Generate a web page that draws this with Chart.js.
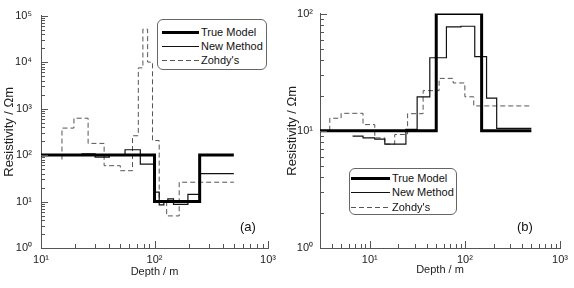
<!DOCTYPE html>
<html>
<head>
<meta charset="utf-8">
<script src="https://cdn.jsdelivr.net/npm/chart.js@4.4.1/dist/chart.umd.min.js"></script>
<style>
  html, body { margin: 0; padding: 0; background: #fff; }
  body { width: 574px; height: 288px; position: relative; overflow: hidden; font-family: "Liberation Sans", Arial, sans-serif; }
  .panel { position: absolute; top: 0; height: 288px; }
  #wrapA { left: 0; width: 287px; }
  #wrapB { left: 286px; width: 288px; }
  .legend { position: absolute; box-sizing: border-box; border: 1px solid #666; border-radius: 6px; background: #fff; font-size: 11px; color: #111; }
  .legend .row { position: absolute; left: 0; height: 14px; line-height: 14px; white-space: nowrap; }
  .legend svg { position: absolute; top: 0; }
  .legend .txt { position: absolute; top: 0; }
  .tag { position: absolute; font-size: 13px; color: #111; line-height: 15px; }
</style>
</head>
<body>
<div class="panel" id="wrapA"><canvas id="chartA" width="287" height="288"></canvas></div>
<div class="panel" id="wrapB"><canvas id="chartB" width="288" height="288"></canvas></div>

<div class="legend" style="left:157px; top:19px; width:110px; height:51px;">
  <div class="row" style="top:5px;"><svg width="40" height="14" style="left:4px"><line x1="0" y1="7.5" x2="37" y2="7.5" stroke="#000" stroke-width="3"/></svg><span class="txt" style="left:43px">True Model</span></div>
  <div class="row" style="top:19px;"><svg width="40" height="14" style="left:4px"><line x1="0" y1="7.5" x2="37" y2="7.5" stroke="#111" stroke-width="1.2"/></svg><span class="txt" style="left:43px">New Method</span></div>
  <div class="row" style="top:33px;"><svg width="40" height="14" style="left:4px"><line x1="0" y1="7.5" x2="37" y2="7.5" stroke="#555" stroke-width="1" stroke-dasharray="5,3"/></svg><span class="txt" style="left:43px">Zohdy's</span></div>
</div>
<div class="legend" style="left:349px; top:168px; width:108px; height:47px;">
  <div class="row" style="top:2px;"><svg width="40" height="14" style="left:1px"><line x1="0" y1="7.5" x2="39" y2="7.5" stroke="#000" stroke-width="3"/></svg><span class="txt" style="left:42px">True Model</span></div>
  <div class="row" style="top:16px;"><svg width="40" height="14" style="left:1px"><line x1="0" y1="7.5" x2="39" y2="7.5" stroke="#111" stroke-width="1.2"/></svg><span class="txt" style="left:42px">New Method</span></div>
  <div class="row" style="top:31px;"><svg width="40" height="14" style="left:1px"><line x1="0" y1="7.5" x2="39" y2="7.5" stroke="#555" stroke-width="1" stroke-dasharray="5,3"/></svg><span class="txt" style="left:42px">Zohdy's</span></div>
</div>
<div class="tag" style="left:240px; top:219px;">(a)</div>
<div class="tag" style="left:517px; top:219px;">(b)</div>

<script>
// panel (a): layer tops (depth, m) and resistivities (ohm m); last depth closes the last layer
const trueDepthA = [10, 100, 250, 500];
const trueResA = [100, 10, 100];
const newDepthA = [10, 23, 30, 40, 55, 75, 99, 110, 121, 131, 147, 197, 250, 500];
const newResA = [100, 106, 90, 100, 130, 64, 16, 8.5, 9.7, 11.4, 8.7, 14.2, 40];
const zohdyDepthA = [15.3, 15.3, 19.5, 26, 36, 50, 64, 72, 79, 87, 96, 110, 128, 165, 500];
const zohdyResA = [80, 380, 620, 178, 59, 46, 260, 7500, 51000, 10000, 205, 9.5, 4.9, 26];

// panel (b)
const trueDepthB = [3, 50, 150, 500];
const trueResB = [10, 100, 10];
const newDepthB = [6.6, 8.5, 11.3, 14.4, 24, 31.5, 42.8, 64, 91, 127, 169, 216, 500];
const newResB = [9.0, 8.7, 8.5, 7.7, 10.3, 19.5, 42, 77, 78, 43, 19, 10.5];
const zohdyDepthB = [3.8, 3.8, 5.0, 8.5, 11.3, 14.4, 18.3, 25, 36.4, 53.6, 75.3, 100, 124, 500];
const zohdyResB = [10, 12.8, 14.1, 11.3, 8.7, 7.7, 9.3, 14, 22, 28, 25.6, 19.5, 16.3];

// axes
const xRangeA = [10, 1000];
const yRangeA = [1, 100000];
const xRangeB = [3, 1000];
const yRangeB = [1, 100];
const decadeLabels = { 0: '10⁰', 1: '10¹', 2: '10²', 3: '10³', 4: '10⁴', 5: '10⁵' };

const seriesNames = ['True Model', 'New Method', "Zohdy's"];

Chart.defaults.font.family = '"Liberation Sans", Arial, sans-serif';
Chart.defaults.font.size = 11;
Chart.defaults.color = '#222';

function layers(depths, res) {
  const pts = res.map((r, i) => ({ x: depths[i], y: r }));
  pts.push({ x: depths[depths.length - 1], y: res[res.length - 1] });
  return pts;
}

function isDecade(v) {
  const l = Math.log10(v);
  return Math.abs(l - Math.round(l)) < 1e-9;
}

function logTicks(scale) {
  const ticks = [];
  const lo = Math.floor(Math.log10(scale.min));
  const hi = Math.ceil(Math.log10(scale.max));
  for (let e = lo; e <= hi; e++) {
    for (let m = 1; m < 10; m++) {
      const v = m * Math.pow(10, e);
      if (v >= scale.min * 0.9999 && v <= scale.max * 1.0001) ticks.push({ value: v, major: m === 1 });
    }
  }
  scale.ticks = ticks;
}

const inwardTicks = {
  id: 'inwardTicks',
  afterDraw(chart) {
    const ctx = chart.ctx;
    const area = chart.chartArea;
    const xs = chart.scales.x, ys = chart.scales.y;
    ctx.save();
    ctx.strokeStyle = '#555';
    ctx.lineWidth = 1;
    xs.ticks.forEach(t => {
      const px = Math.round(xs.getPixelForValue(t.value)) + 0.5;
      const len = isDecade(t.value) ? 7 : 4;
      ctx.beginPath();
      ctx.moveTo(px, area.bottom);
      ctx.lineTo(px, area.bottom - len);
      ctx.stroke();
    });
    ys.ticks.forEach(t => {
      const py = Math.round(ys.getPixelForValue(t.value)) + 0.5;
      const len = isDecade(t.value) ? 7 : 4;
      ctx.beginPath();
      ctx.moveTo(area.left, py);
      ctx.lineTo(area.left + len, py);
      ctx.stroke();
    });
    ctx.restore();
  }
};

function makeChart(id, sets, xRange, yRange, box) {
  new Chart(document.getElementById(id), {
    type: 'scatter',
    data: {
      datasets: [
        { label: seriesNames[0], data: layers(sets[0], sets[1]), borderColor: '#000', borderWidth: 3 },
        { label: seriesNames[1], data: layers(sets[2], sets[3]), borderColor: '#111', borderWidth: 1.2 },
        { label: seriesNames[2], data: layers(sets[4], sets[5]), borderColor: '#555', borderWidth: 1, borderDash: [5, 3] }
      ].map(d => Object.assign(d, { showLine: true, stepped: 'before', pointRadius: 0, fill: false }))
    },
    options: {
      responsive: false,
      animation: false,
      events: [],
      layout: { padding: { top: 8, right: box.right, left: 0, bottom: 0 } },
      plugins: { legend: { display: false }, tooltip: { enabled: false } },
      scales: {
        x: {
          type: 'logarithmic',
          min: xRange[0],
          max: xRange[1],
          afterBuildTicks: logTicks,
          afterFit: s => { s.height = box.xh; },
          grid: { display: false, drawTicks: false },
          border: { display: true, color: '#555', width: 1 },
          ticks: {
            autoSkip: false,
            maxRotation: 0,
            padding: box.xpad,
            color: '#222',
            callback: v => isDecade(v) ? decadeLabels[Math.round(Math.log10(v))] : ''
          },
          title: { display: true, text: 'Depth / m', color: '#222', font: { size: 11 }, padding: { top: 0, bottom: box.xtb } }
        },
        y: {
          type: 'logarithmic',
          min: yRange[0],
          max: yRange[1],
          afterBuildTicks: logTicks,
          afterFit: s => { s.width = box.yw; },
          grid: { display: false, drawTicks: false },
          border: { display: true, color: '#555', width: 1 },
          ticks: {
            autoSkip: false,
            padding: box.ypad,
            color: '#222',
            callback: v => isDecade(v) ? decadeLabels[Math.round(Math.log10(v))] : ''
          },
          title: { display: true, text: 'Resistivity / Ωm', color: '#222', font: { size: 13 }, padding: { top: box.ytt, bottom: 0 } }
        }
      }
    },
    plugins: [inwardTicks]
  });
}

makeChart('chartA', [trueDepthA, trueResA, newDepthA, newResA, zohdyDepthA, zohdyResA], xRangeA, yRangeA,
  { right: 19, xh: 40, yw: 41, xpad: 5, ypad: 9, xtb: 9, ytt: 2 });
makeChart('chartB', [trueDepthB, trueResB, newDepthB, newResB, zohdyDepthB, zohdyResB], xRangeB, yRangeB,
  { right: 14, xh: 40, yw: 34, xpad: 5, ypad: 7, xtb: 11, ytt: -1 });
</script>
</body>
</html>
